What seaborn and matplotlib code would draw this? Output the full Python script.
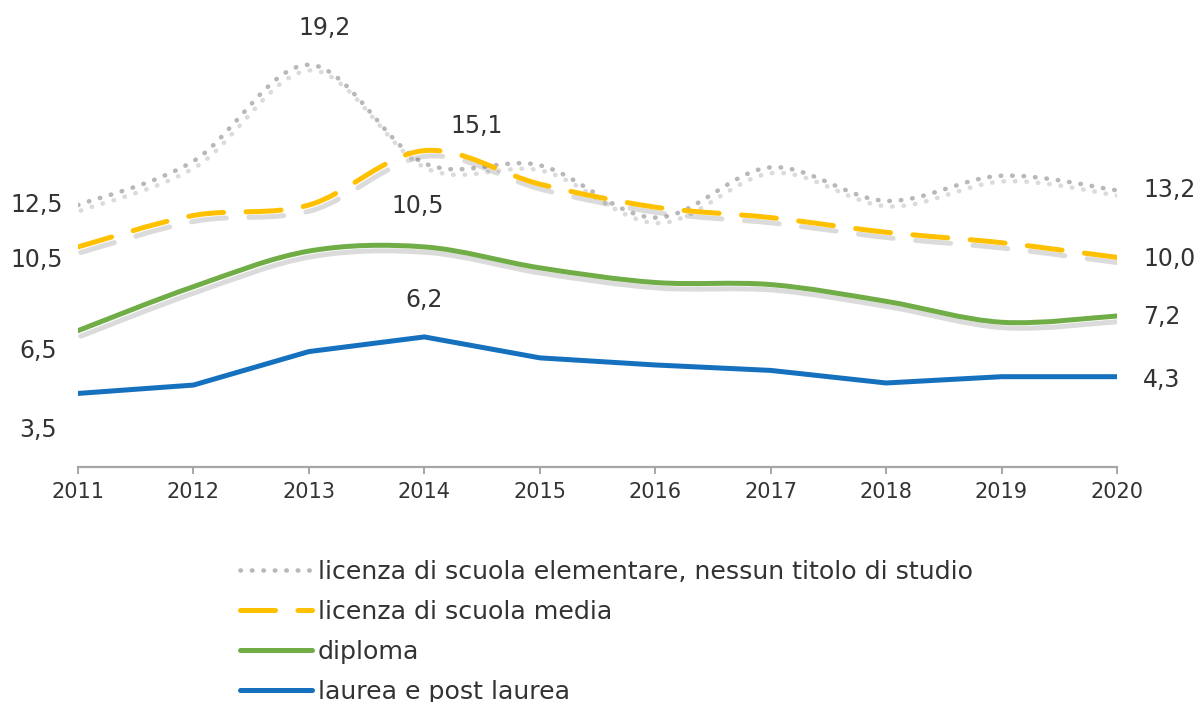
import matplotlib
matplotlib.use("Agg")
import matplotlib.pyplot as plt
import matplotlib.patheffects as pe
from matplotlib.path import Path
from matplotlib.patches import PathPatch
from matplotlib.lines import Line2D
import seaborn as sns
import pandas as pd

# data (values in %)
years = [2011, 2012, 2013, 2014, 2015, 2016, 2017, 2018, 2019, 2020]
elementare = [12.5, 14.6, 19.2, 14.5, 14.4, 11.9, 14.3, 12.7, 13.9, 13.2]
media = [10.5, 12.0, 12.5, 15.1, 13.5, 12.4, 11.9, 11.2, 10.7, 10.0]
diploma = [6.5, 8.6, 10.3, 10.5, 9.5, 8.8, 8.7, 7.9, 6.9, 7.2]
laurea = [3.5, 3.9, 5.5, 6.2, 5.2, 4.86, 4.6, 4.0, 4.3, 4.3]
labels = ["licenza di scuola elementare, nessun titolo di studio",
          "licenza di scuola media",
          "diploma",
          "laurea e post laurea"]

TEXT = "#333333"
DOTS = (0, (0.1, 2.4))
DASH = (0, (7, 4.5))


def smooth_path(xs, ys):
    # excel-style smoothed line: cubic bezier through every point
    pts = list(zip(xs, ys))
    verts = [pts[0]]
    codes = [Path.MOVETO]
    n = len(pts)
    for i in range(n - 1):
        p0 = pts[i]
        p1 = pts[i + 1]
        prev = pts[i - 1] if i > 0 else p0
        nxt = pts[i + 2] if i + 2 < n else p1
        c1 = (p0[0] + (p1[0] - prev[0]) / 6, p0[1] + (p1[1] - prev[1]) / 6)
        c2 = (p1[0] - (nxt[0] - p0[0]) / 6, p1[1] - (nxt[1] - p0[1]) / 6)
        verts += [c1, c2, p1]
        codes += [Path.CURVE4] * 3
    return Path(verts, codes)


def fmt(v):
    return f"{v:.1f}".replace(".", ",")


def main():
    sns.set_theme(style="white")
    plt.rcParams["font.family"] = ["DejaVu Sans"]

    fig = plt.figure(figsize=(11.98, 7.02), dpi=100)
    ax = fig.add_axes([78 / 1198, 235.3 / 702, 1039 / 1198, 0.656])

    shadow = [pe.SimpleLineShadow(offset=(2, -4), shadow_color="black", alpha=0.14),
              pe.Normal()]

    styles = [
        dict(color="#B8B8BC", lw=3.3, ls=DOTS),
        dict(color="#FFC000", lw=3.6, ls=DASH),
        dict(color="#70AD47", lw=3.6, ls="-"),
    ]
    for ys, st in zip([elementare, media, diploma], styles):
        patch = PathPatch(smooth_path(years, ys), fill=False, edgecolor=st["color"],
                          linewidth=st["lw"], linestyle=st["ls"], capstyle="round",
                          joinstyle="round", path_effects=shadow)
        ax.add_patch(patch)

    df = pd.DataFrame({"anno": years, "valore": laurea})
    sns.lineplot(data=df, x="anno", y="valore", color="#1570BE", linewidth=3.6, ax=ax)

    # data labels: first, peak, last
    opts = [
        (elementare, [(0, -15, 0, "right"), (2, 16, 37, "center"), (9, 26, 0, "left")]),
        (media, [(0, -15, -13, "right"), (3, 52, 25, "center"), (9, 26, -2, "left")]),
        (diploma, [(0, -21, -20, "right"), (3, -7, 41, "center"), (9, 26, -1, "left")]),
        (laurea, [(0, -21, -37, "right"), (3, 0, 37, "center"), (9, 26, -3, "left")]),
    ]
    for ys, spots in opts:
        for i, dx, dy, ha in spots:
            ax.annotate(fmt(ys[i]), (years[i], ys[i]), xytext=(dx, dy),
                        textcoords="offset pixels", ha=ha, va="center",
                        fontsize=17, color=TEXT, annotation_clip=False)

    ax.set_xlim(2011, 2020)
    ax.set_ylim(0, 22)
    ax.set_xticks(years)
    ax.set_xticklabels([str(y) for y in years])
    ax.set_yticks([])
    ax.set_xlabel("")
    ax.set_ylabel("")
    for s in ["top", "right", "left"]:
        ax.spines[s].set_visible(False)
    ax.spines["bottom"].set_color("#A6A6A6")
    ax.spines["bottom"].set_linewidth(1.6)
    ax.tick_params(axis="x", bottom=True, direction="out", length=5, width=1.4,
                   color="#A6A6A6", labelsize=15, labelcolor=TEXT, pad=6)

    handles = [
        Line2D([], [], color="#B8B8BC", lw=3.3, ls=DOTS, dash_capstyle="round"),
        Line2D([], [], color="#FFC000", lw=3.6, ls=DASH, dash_capstyle="round"),
        Line2D([], [], color="#70AD47", lw=3.6, solid_capstyle="round"),
        Line2D([], [], color="#1570BE", lw=3.6, solid_capstyle="round"),
    ]
    fig.legend(handles, labels, loc="upper left", bbox_to_anchor=(240 / 1198, 0.202),
               frameon=False, borderpad=0, borderaxespad=0, fontsize=18.2,
               handlelength=2.84, handletextpad=0.24, labelspacing=0.63,
               labelcolor=TEXT)

    fig.savefig("out.png", dpi=100, facecolor="white")


if __name__ == "__main__":
    main()
